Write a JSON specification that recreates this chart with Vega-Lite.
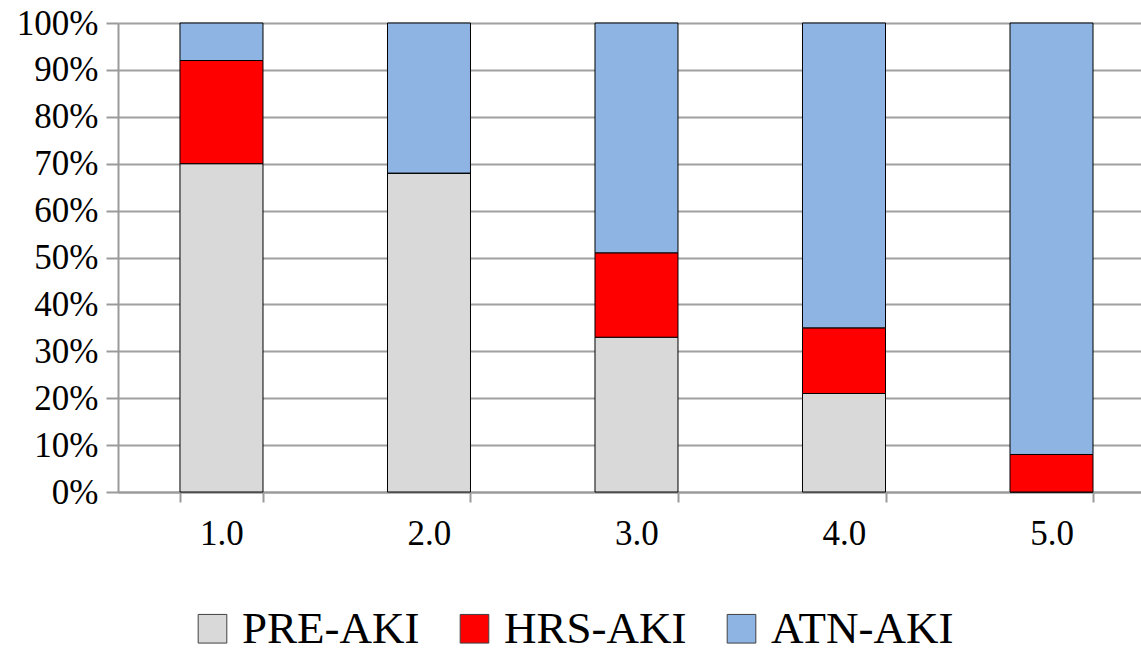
{
  "$schema": "https://vega.github.io/schema/vega-lite/v6.json",
  "autosize": {"type": "none"},
  "padding": {"left": 118, "top": 23, "right": 0, "bottom": 162},
  "width": 1023,
  "height": 469,
  "background": "white",
  "data": {"values": [
    {"stage": "1.0", "type": "PRE-AKI", "ord": 1, "share": 0.70},
    {"stage": "1.0", "type": "HRS-AKI", "ord": 2, "share": 0.22},
    {"stage": "1.0", "type": "ATN-AKI", "ord": 3, "share": 0.08},
    {"stage": "2.0", "type": "PRE-AKI", "ord": 1, "share": 0.68},
    {"stage": "2.0", "type": "HRS-AKI", "ord": 2, "share": 0.0},
    {"stage": "2.0", "type": "ATN-AKI", "ord": 3, "share": 0.32},
    {"stage": "3.0", "type": "PRE-AKI", "ord": 1, "share": 0.33},
    {"stage": "3.0", "type": "HRS-AKI", "ord": 2, "share": 0.18},
    {"stage": "3.0", "type": "ATN-AKI", "ord": 3, "share": 0.49},
    {"stage": "4.0", "type": "PRE-AKI", "ord": 1, "share": 0.21},
    {"stage": "4.0", "type": "HRS-AKI", "ord": 2, "share": 0.14},
    {"stage": "4.0", "type": "ATN-AKI", "ord": 3, "share": 0.65},
    {"stage": "5.0", "type": "PRE-AKI", "ord": 1, "share": 0.0},
    {"stage": "5.0", "type": "HRS-AKI", "ord": 2, "share": 0.08},
    {"stage": "5.0", "type": "ATN-AKI", "ord": 3, "share": 0.92}
  ]},
  "mark": {"type": "bar", "stroke": "#000000", "strokeWidth": 1},
  "encoding": {
    "x": {
      "field": "stage", "type": "nominal", "sort": null,
      "scale": {"type": "band", "paddingInner": 0.6, "paddingOuter": 0.265, "align": 0.5636},
      "axis": {
        "title": null, "labelAngle": 0, "tickBand": "extent",
        "labelFont": "Liberation Serif, Times New Roman, serif", "labelFontSize": 35, "labelColor": "#000000",
        "labelPadding": 14, "grid": false,
        "domainColor": "#9a9a9a", "domainWidth": 2,
        "tickColor": "#9a9a9a", "tickWidth": 2, "tickSize": 10
      }
    },
    "y": {
      "field": "share", "type": "quantitative", "stack": "zero",
      "scale": {"domain": [0, 1], "nice": false},
      "axis": {
        "title": null, "format": ".0%",
        "values": [0, 0.1, 0.2, 0.3, 0.4, 0.5, 0.6, 0.7, 0.8, 0.9, 1.0],
        "labelFont": "Liberation Serif, Times New Roman, serif", "labelFontSize": 35, "labelColor": "#000000",
        "labelPadding": 8,
        "grid": true, "gridColor": "#a0a0a0", "gridWidth": 2,
        "domainColor": "#9a9a9a", "domainWidth": 2,
        "tickColor": "#9a9a9a", "tickWidth": 2, "tickSize": 12
      }
    },
    "color": {
      "field": "type", "type": "nominal",
      "scale": {"domain": ["PRE-AKI", "HRS-AKI", "ATN-AKI"], "range": ["#d9d9d9", "#ff0000", "#8eb4e3"]},
      "legend": {
        "title": null, "orient": "none", "direction": "horizontal",
        "legendX": 72, "legendY": 583,
        "symbolType": "square", "symbolSize": 820,
        "symbolStrokeColor": "#404040", "symbolStrokeWidth": 1, "symbolOpacity": 1,
        "labelFont": "Liberation Serif, Times New Roman, serif", "labelFontSize": 45, "labelColor": "#000000",
        "labelOffset": 7, "columnPadding": 32, "labelLimit": 400
      }
    },
    "order": {"field": "ord", "type": "quantitative"}
  },
  "config": {"view": {"stroke": null}}
}
